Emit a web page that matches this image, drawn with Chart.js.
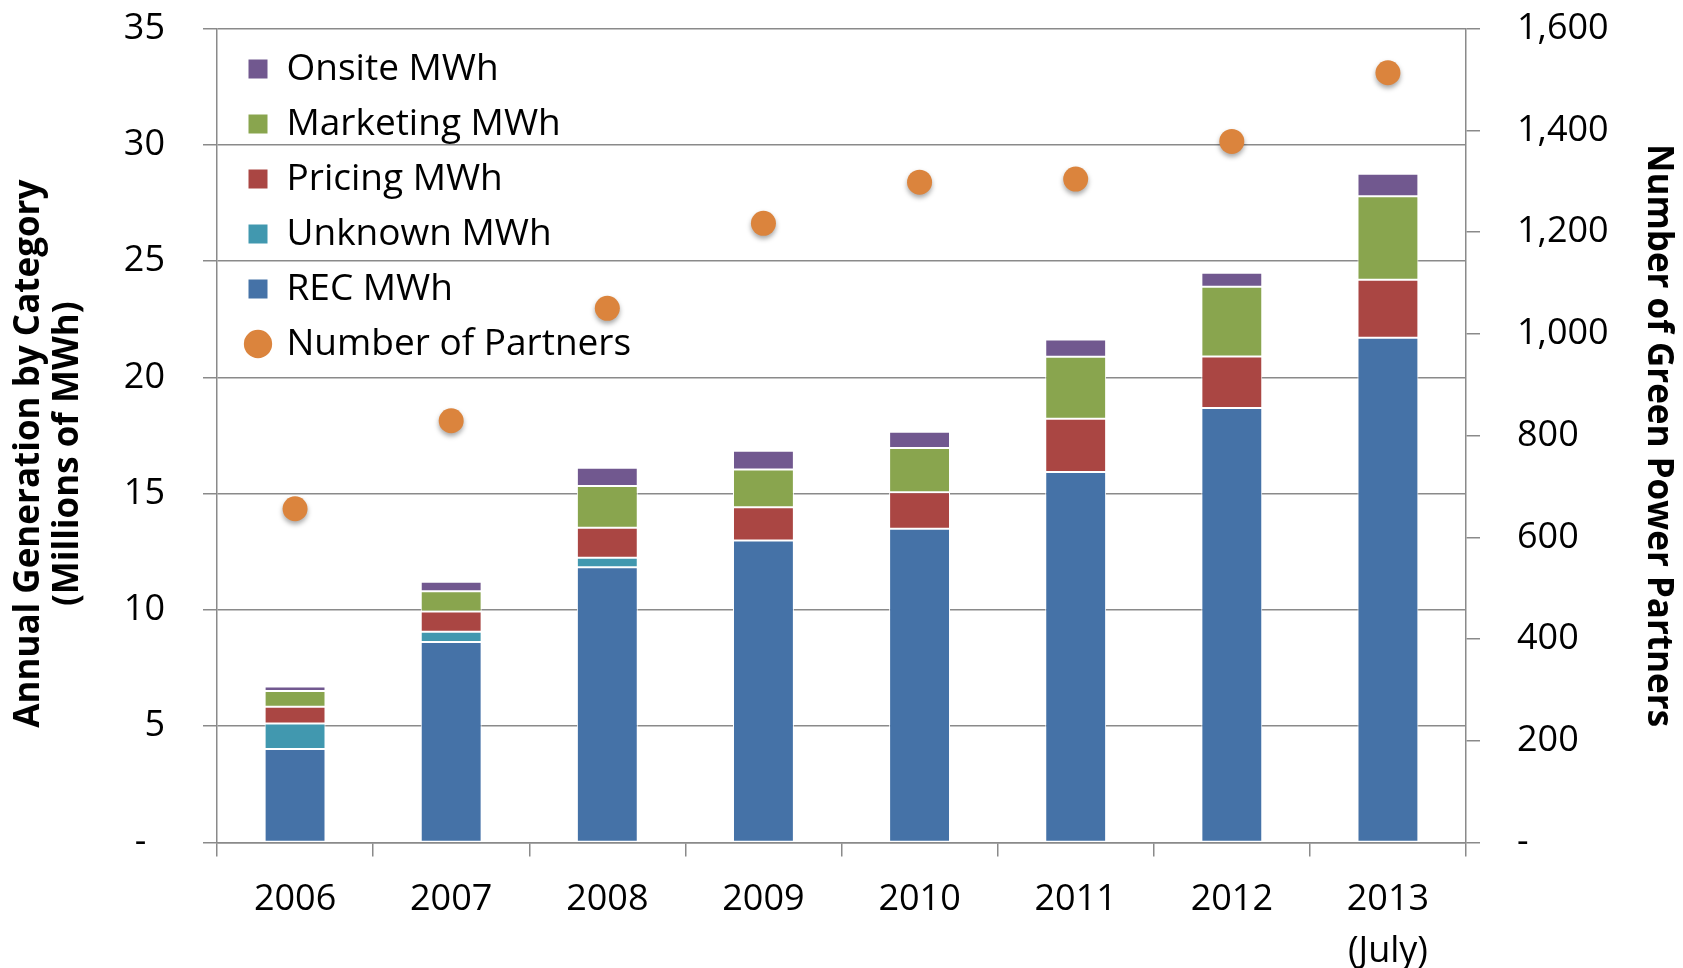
<!DOCTYPE html>
<html>
<head>
<meta charset="utf-8">
<title>Green Power Partners</title>
<script src="https://cdn.jsdelivr.net/npm/chart.js@4.4.0/dist/chart.umd.min.js"></script>
<style>
  html, body { margin: 0; padding: 0; background: #fff; }
  #wrap { width: 1683px; height: 968px; }
</style>
</head>
<body>
<div id="wrap"><canvas id="chart" width="1683" height="968"></canvas></div>
<script>
// Chart data
const years = ['2006', '2007', '2008', '2009', '2010', '2011', '2012', ['2013', '(July)']];
const recMWh = [4.02, 8.62, 11.84, 12.99, 13.49, 15.93, 18.68, 21.7];
const unknownMWh = [1.1, 0.44, 0.4, 0, 0, 0, 0, 0];
const pricingMWh = [0.72, 0.87, 1.29, 1.42, 1.57, 2.29, 2.22, 2.5];
const marketingMWh = [0.67, 0.87, 1.8, 1.63, 1.9, 2.67, 3.0, 3.59];
const onsiteMWh = [0.2, 0.41, 0.78, 0.8, 0.7, 0.74, 0.6, 0.96];
const partners = [656, 829, 1050, 1217, 1298, 1304, 1378, 1513];

const leftTicks = { min: 0, max: 35, step: 5 };
const rightTicks = { min: 0, max: 1600, step: 200 };

const FONT = "'Open Sans', 'Noto Sans', sans-serif";
const GRID = '#8a8a8a';

Chart.defaults.font.family = FONT;
Chart.defaults.color = '#000';

function barSet(label, data, color) {
    return {
        type: 'bar',
        label: label,
        data: data,
        backgroundColor: color,
        borderColor: '#fff',
        borderWidth: 1,
        borderSkipped: false,
        pointStyle: 'rect',
        stack: 'mwh',
        yAxisID: 'y',
        barPercentage: 0.39,
        categoryPercentage: 1
    };
}

// vertical axes: don't let tick padding eat into the plot height
function fixAxis(s) {
    s.width = 217;
    s.paddingTop = 0;
    s.paddingBottom = 0;
}

// soft shadow under the partner dots
const dotShadow = {
    id: 'dotShadow',
    beforeDatasetDraw(chart, args) {
        if (args.index === 5) {
            const c = chart.ctx;
            c.save();
            c.shadowColor = 'rgba(0,0,0,0.35)';
            c.shadowBlur = 5;
            c.shadowOffsetY = 3;
        }
    },
    afterDatasetDraw(chart, args) {
        if (args.index === 5) chart.ctx.restore();
    }
};

// place the in-plot legend near the top-left corner of the plot
const legendNudge = {
    id: 'legendNudge',
    afterLayout(chart) {
        if (chart.legend) {
            chart.legend.left = chart.chartArea.left + 13;
            chart.legend.top = chart.chartArea.top + 4;
        }
    }
};

const legendOrder = [4, 3, 2, 1, 0, 5];

new Chart(document.getElementById('chart'), {
    data: {
        labels: years,
        datasets: [
            barSet('REC MWh', recMWh, '#4572A7'),
            barSet('Unknown MWh', unknownMWh, '#4198AF'),
            barSet('Pricing MWh', pricingMWh, '#AA4643'),
            barSet('Marketing MWh', marketingMWh, '#89A54E'),
            barSet('Onsite MWh', onsiteMWh, '#71588F'),
            {
                type: 'line',
                label: 'Number of Partners',
                data: partners,
                yAxisID: 'y2',
                showLine: false,
                pointStyle: 'circle',
                pointRadius: 12.5,
                pointHoverRadius: 12.5,
                pointBackgroundColor: '#DB843D',
                pointBorderWidth: 0,
                backgroundColor: '#DB843D',
                borderColor: '#DB843D',
                borderWidth: 0
            }
        ]
    },
    options: {
        responsive: false,
        animation: false,
        layout: { padding: { top: 28.5, left: 0, right: 0, bottom: 0 } },
        plugins: {
            tooltip: { enabled: false },
            legend: {
                position: 'chartArea',
                fullSize: false,
                align: 'start',
                labels: {
                    usePointStyle: true,
                    boxWidth: 20,
                    boxHeight: 20,
                    padding: 18,
                    font: { size: 37 },
                    color: '#000',
                    sort: (a, b) => legendOrder.indexOf(a.datasetIndex) - legendOrder.indexOf(b.datasetIndex)
                }
            }
        },
        scales: {
            x: {
                stacked: true,
                offset: true,
                grid: {
                    offset: true,
                    drawOnChartArea: false,
                    drawTicks: true,
                    tickLength: 14,
                    color: GRID,
                    lineWidth: 1.5
                },
                border: { display: true, color: GRID, width: 1.5 },
                ticks: { font: { size: 36, lineHeight: 1.45 }, padding: 17, maxRotation: 0 },
                afterFit(s) { s.height = 125.5; }
            },
            y: {
                stacked: true,
                position: 'left',
                min: leftTicks.min,
                max: leftTicks.max,
                grid: { color: GRID, lineWidth: 1.5, tickLength: 14 },
                border: { display: true, color: GRID, width: 1.5 },
                ticks: {
                    stepSize: leftTicks.step,
                    font: { size: 36 },
                    padding: 38,
                    callback: v => v === 0 ? '-  ' : v
                },
                title: {
                    display: true,
                    // trailing spaces push the centred title a bit lower, as in the original
                    text: ['Annual Generation by Category    ', '(Millions of MWh)    '],
                    font: { size: 35, weight: 'bold', lineHeight: 1.1 },
                    padding: { top: 10, bottom: 0 }
                },
                afterFit: fixAxis
            },
            y2: {
                position: 'right',
                min: rightTicks.min,
                max: rightTicks.max,
                grid: { drawOnChartArea: false, color: GRID, lineWidth: 1.5, tickLength: 14 },
                border: { display: true, color: GRID, width: 1.5 },
                ticks: {
                    stepSize: rightTicks.step,
                    font: { size: 36 },
                    padding: 37,
                    callback: v => v === 0 ? '-' : v.toLocaleString('en-US')
                },
                title: {
                    display: true,
                    text: 'Number of Green Power Partners',
                    font: { size: 35, weight: 'bold', lineHeight: 1.1 },
                    padding: { top: 6, bottom: 0 }
                },
                afterFit: fixAxis
            }
        }
    },
    plugins: [dotShadow, legendNudge]
});
</script>
</body>
</html>
